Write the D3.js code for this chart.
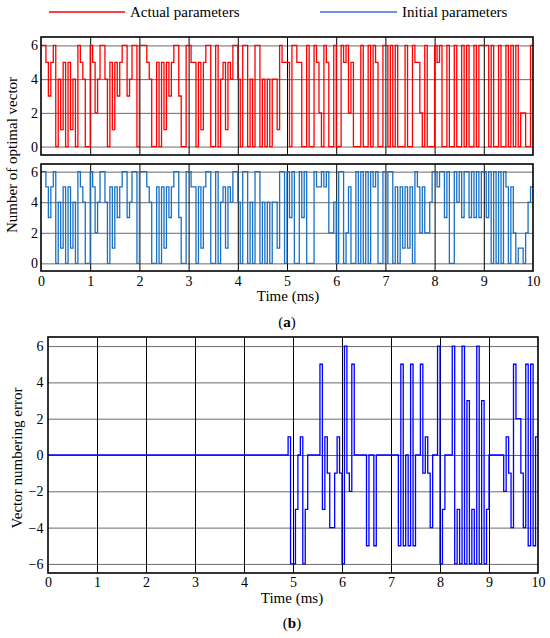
<!DOCTYPE html>
<html>
<head>
<meta charset="utf-8">
<script src="https://cdn.jsdelivr.net/npm/d3@7/dist/d3.min.js"></script>
<style>
  body { margin: 0; background: #fff; }
  svg { display: block; }
  text { font-family: "Liberation Serif", "Times New Roman", serif; fill: #000; }
</style>
</head>
<body>
<svg id="chart" width="550" height="638"></svg>
<script>
// sampling period of the controller (ms); one value per sample
var sampleMs = 0.05;
var timeTicks = [0, 1, 2, 3, 4, 5, 6, 7, 8, 9, 10];
var vecTicks = [0, 2, 4, 6];
var errTicks = [-6, -4, -2, 0, 2, 4, 6];
var seriesNames = ['Actual parameters', 'Initial parameters'];

// optimal vector number, actual parameters (one row per ms)
var actualVec = [
  6,6,5,3,5,6,0,4,1,5,0,5,1,4,0,6,5,4,0,0,
  6,5,2,4,6,6,4,0,5,1,5,3,5,6,6,3,4,6,6,0,
  6,6,6,5,4,0,0,5,0,5,1,5,3,5,6,6,3,0,0,6,
  6,5,5,0,5,1,5,6,6,0,0,6,0,4,5,1,5,4,6,6,
  4,0,6,6,0,4,0,6,6,0,4,0,4,0,4,4,1,6,5,5,
  5,0,6,6,5,5,0,0,6,0,0,6,5,2,0,6,5,0,0,6,
  0,0,6,5,6,2,5,0,0,0,6,0,0,6,0,6,5,0,0,6,
  6,0,6,0,6,0,0,0,6,0,0,6,5,5,2,0,6,0,0,0,
  6,5,6,0,0,6,0,0,6,0,0,6,0,6,0,0,6,0,6,6,
  6,6,0,6,0,0,6,0,0,6,0,6,0,6,0,2,2,0,0,6
];

// optimal vector number, initial parameters
var initialVec = [
  6,6,5,3,5,6,0,4,1,5,0,5,1,4,0,6,5,4,0,0,
  6,5,2,4,6,6,4,0,5,1,5,3,5,6,6,3,4,6,6,0,
  6,6,6,5,4,0,0,5,0,5,1,5,3,5,6,6,3,0,0,6,
  6,5,5,0,5,1,5,6,6,0,0,6,0,4,5,1,5,4,6,6,
  4,0,6,6,0,4,0,6,6,0,4,0,4,0,4,4,1,6,6,0,
  6,3,6,0,0,6,3,6,0,0,0,6,5,5,6,5,6,2,2,4,
  0,6,6,0,2,5,0,0,6,0,6,0,6,0,6,5,6,0,0,6,
  0,6,6,0,5,0,5,1,5,1,5,0,6,5,2,5,2,2,4,6,
  6,5,6,6,3,6,0,0,6,4,6,3,6,6,3,6,3,6,3,6,
  6,3,6,0,6,0,6,0,6,5,0,5,2,0,1,1,0,2,4,5
];

// vector numbering error
var vecError = [
  0,0,0,0,0,0,0,0,0,0,0,0,0,0,0,0,0,0,0,0,
  0,0,0,0,0,0,0,0,0,0,0,0,0,0,0,0,0,0,0,0,
  0,0,0,0,0,0,0,0,0,0,0,0,0,0,0,0,0,0,0,0,
  0,0,0,0,0,0,0,0,0,0,0,0,0,0,0,0,0,0,0,0,
  0,0,0,0,0,0,0,0,0,0,0,0,0,0,0,0,0,0,1,-6,
  -6,-3,0,1,-6,-3,0,0,0,0,0,5,-3,1,-1,-4,-4,-1,1,-1,
  -6,6,-1,-2,5,0,0,0,0,0,-5,0,0,-5,0,0,0,0,0,0,
  0,0,0,-5,5,-5,0,-5,5,-5,0,0,5,-1,1,-1,-4,0,0,6,
  -6,-3,0,0,0,6,-6,-3,-6,6,-6,3,-6,-3,-6,6,-6,3,-6,-3,
  0,0,0,0,0,0,-2,1,-1,-4,5,2,2,-1,-4,5,-5,5,-5,1
];

var svg = d3.select('#chart');
var fmt = d3.format('d');

function styleLabels(a) {
  a.select('.domain').remove();
  a.attr('font-family', null).attr('font-size', null);
  a.selectAll('text').style('font-size', '14px');
}

function panel(opt) {
  var x = d3.scaleLinear().domain([0, 10]).range([opt.left, opt.right]);
  var y = d3.scaleLinear().domain(opt.yDomain).range([opt.bottom, opt.top]);
  var g = svg.append('g');

  // horizontal grid (grey) and vertical grid (black)
  g.append('g')
    .attr('transform', 'translate(' + opt.left + ',0)')
    .call(d3.axisLeft(y).tickValues(opt.yTicks).tickSize(-(opt.right - opt.left)).tickFormat(''))
    .call(function (a) {
      a.select('.domain').remove();
      a.selectAll('line').attr('stroke', '#6b6b6b').attr('stroke-width', 1);
    });
  g.append('g')
    .attr('transform', 'translate(0,' + opt.bottom + ')')
    .call(d3.axisBottom(x).tickValues(timeTicks.slice(1, -1)).tickSize(-(opt.bottom - opt.top)).tickFormat(''))
    .call(function (a) {
      a.select('.domain').remove();
      a.selectAll('line').attr('stroke', '#000').attr('stroke-width', 1);
    });

  // step trace
  var pts = opt.data.map(function (v, i) { return [i * sampleMs, v]; });
  pts.push([10, opt.data[opt.data.length - 1]]);
  var line = d3.line()
    .x(function (d) { return x(d[0]); })
    .y(function (d) { return y(d[1]); })
    .curve(d3.curveStepAfter);
  g.append('path').datum(pts)
    .attr('d', line)
    .attr('fill', 'none')
    .attr('stroke', opt.color)
    .attr('stroke-width', 1.3)
    .attr('stroke-linejoin', 'miter');

  // frame
  g.append('rect')
    .attr('x', opt.left).attr('y', opt.top)
    .attr('width', opt.right - opt.left).attr('height', opt.bottom - opt.top)
    .attr('fill', 'none').attr('stroke', '#000').attr('stroke-width', 1.6);

  // tick labels
  g.append('g')
    .attr('transform', 'translate(' + opt.left + ',0)')
    .call(d3.axisLeft(y).tickValues(opt.yTicks).tickFormat(fmt).tickSize(0).tickPadding(opt.yPad))
    .call(styleLabels);
  if (opt.xLabels) {
    g.append('g')
      .attr('transform', 'translate(0,' + opt.bottom + ')')
      .call(d3.axisBottom(x).tickValues(timeTicks).tickFormat(fmt).tickSize(0).tickPadding(opt.xPad))
      .call(styleLabels);
  }
  return g;
}

panel({ left: 41, right: 533, top: 37, bottom: 155, yDomain: [-0.5, 6.5], yTicks: vecTicks,
        data: actualVec, color: '#ff0000', yPad: 3 });
panel({ left: 41, right: 533, top: 164, bottom: 271, yDomain: [-0.5, 6.5], yTicks: vecTicks,
        data: initialVec, color: '#1a72c4', yPad: 3, xLabels: true, xPad: 5.5 });
panel({ left: 48, right: 538, top: 337, bottom: 573, yDomain: [-6.5, 6.5], yTicks: errTicks,
        data: vecError, color: '#0000ff', yPad: 4.5, xLabels: true, xPad: 4 });

// legend
var legend = [
  { name: seriesNames[0], color: '#ff0000', x1: 49, x2: 125, tx: 130 },
  { name: seriesNames[1], color: '#3b6fd4', x1: 320, x2: 397, tx: 402 }
];
legend.forEach(function (l) {
  svg.append('line').attr('x1', l.x1).attr('x2', l.x2).attr('y1', 12).attr('y2', 12)
    .attr('stroke', l.color).attr('stroke-width', 1.5);
  svg.append('text').attr('x', l.tx).attr('y', 17).style('font-size', '15px').text(l.name);
});

// axis titles and captions
svg.append('text').attr('x', 288).attr('y', 301).attr('text-anchor', 'middle')
  .style('font-size', '15px').text('Time (ms)');
svg.append('text').attr('x', 287).attr('y', 327).attr('text-anchor', 'middle')
  .style('font-size', '15px').html('(<tspan font-weight="bold">a</tspan>)');
svg.append('text').attr('transform', 'translate(17,155) rotate(-90)').attr('text-anchor', 'middle')
  .style('font-size', '15px').text('Number of optimal vector');

svg.append('text').attr('x', 292).attr('y', 603).attr('text-anchor', 'middle')
  .style('font-size', '15px').text('Time (ms)');
svg.append('text').attr('x', 292).attr('y', 628).attr('text-anchor', 'middle')
  .style('font-size', '15px').html('(<tspan font-weight="bold">b</tspan>)');
svg.append('text').attr('transform', 'translate(22,458) rotate(-90)').attr('text-anchor', 'middle')
  .style('font-size', '15px').text('Vector numbering error');
</script>
</body>
</html>
